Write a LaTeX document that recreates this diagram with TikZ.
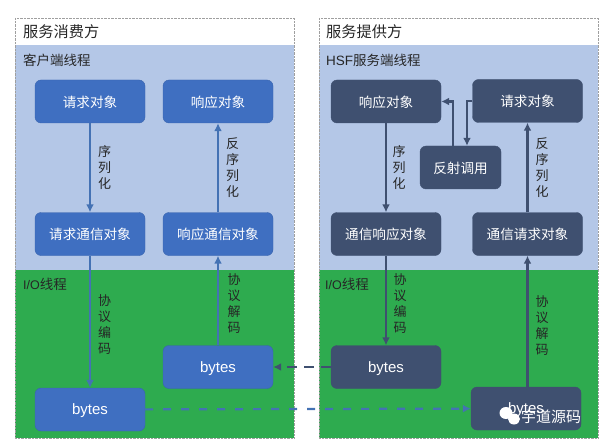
\documentclass[tikz,border=0pt]{standalone}
\usepackage{fontspec}
\setmainfont{Liberation Sans}
\newfontfamily\cjk{Noto Sans CJK SC}
\usetikzlibrary{arrows.meta}
\definecolor{paneblue}{HTML}{B4C7E7}
\definecolor{panegreen}{HTML}{2EAB4F}
\definecolor{boxblue}{HTML}{3F6FC1}
\definecolor{boxdark}{HTML}{3F5070}
\definecolor{lineblue}{HTML}{4472B4}
\tikzset{
  bluebox/.style={rectangle,rounded corners=6pt,draw=boxblue!90!black,fill=boxblue,text=white,text depth=0pt,
    minimum width=110pt,minimum height=43pt,inner sep=0pt,font=\cjk\fontsize{13.6}{16}\selectfont},
  darkbox/.style={bluebox,draw=boxdark,fill=boxdark},
  bytesfont/.style={font=\fontsize{15}{16}\selectfont},
  steplabel/.style={align=center,inner sep=0pt,text=black!85,font=\cjk\fontsize{13}{16}\selectfont},
  bluearrow/.style={line width=2.2pt,lineblue,-{Latex[length=8pt,width=8pt]}},
  darkarrow/.style={line width=2.2pt,boxdark,-{Latex[length=8pt,width=8pt]}},
  panetitle/.style={anchor=west,inner sep=0pt,text=black!85,font=\cjk\fontsize{15.2}{18}\selectfont},
  threadtitle/.style={anchor=west,inner sep=0pt,text=black!85,font=\cjk\fontsize{13.5}{16}\selectfont}
}
\begin{document}
\begin{tikzpicture}[x=1pt,y=-1pt]
    \useasboundingbox (0,0) rectangle (608,441);

    % panels
    \fill[paneblue] (15,45) rectangle (294,270);
    \fill[panegreen] (15,270) rectangle (294,438);
    \draw[gray!75,densely dotted] (15,18) rectangle (294,438);
    \fill[paneblue] (319,45) rectangle (598,270);
    \fill[panegreen] (319,270) rectangle (598,438);
    \draw[gray!75,densely dotted] (319,18) rectangle (598,438);

    \node(consumer)[panetitle] at (23,32) {服务消费方};
    \node(provider)[panetitle] at (326,32) {服务提供方};
    \node(clientthread)[threadtitle] at (23,60) {客户端线程};
    \node(serverthread)[threadtitle] at (326,60) {{\normalfont\fontsize{13.5}{16}\selectfont HSF}服务端线程};
    \node(clientio)[threadtitle] at (23,284) {{\normalfont\fontsize{12.5}{16}\selectfont I/O}线程};
    \node(serverio)[threadtitle] at (325,284) {{\normalfont\fontsize{12.5}{16}\selectfont I/O}线程};

    % consumer side
    \node(creq)[bluebox] at (90,101.5) {请求对象};
    \node(cresp)[bluebox, right of=creq, node distance=128pt] {响应对象};
    \node(creqmsg)[bluebox, below of=creq, node distance=132.5pt] {请求通信对象};
    \node(crespmsg)[bluebox, below of=cresp, node distance=132.5pt] {响应通信对象};
    \node(cin)[bluebox, below of=crespmsg, node distance=133pt, bytesfont] {bytes};
    \node(cout)[bluebox, below of=creqmsg, node distance=175.5pt, bytesfont] {bytes};

    % provider side
    \node(sresp)[darkbox] at (386,101.5) {响应对象};
    \node(sreq)[darkbox, right of=sresp, node distance=141.5pt, yshift=0.5pt] {请求对象};
    \node(scall)[darkbox, minimum width=81pt] at (460.5,167.5) {反射调用};
    \node(srespmsg)[darkbox] at (386,234) {通信响应对象};
    \node(sreqmsg)[darkbox, right of=srespmsg, node distance=141.5pt] {通信请求对象};
    \node(sout)[darkbox, below of=srespmsg, node distance=133pt, bytesfont] {bytes};
    \node(sin)[darkbox, below of=sreqmsg, node distance=174.5pt, xshift=-1.5pt, bytesfont] {bytes};

    \draw[bluearrow] (creq) -- node[steplabel,right=7pt]{序\\列\\化} (creqmsg);
    \draw[bluearrow] (crespmsg) -- node[steplabel,right=7pt]{反\\序\\列\\化} (cresp);
    \draw[bluearrow] (creqmsg) -- node[steplabel,right=7pt,pos=.52]{协\\议\\编\\码} (cout);
    \draw[bluearrow] (cin) -- node[steplabel,right=8.5pt,pos=.47]{协\\议\\解\\码} (crespmsg);

    \draw[darkarrow] (sresp) -- node[steplabel,right=5.5pt]{序\\列\\化} (srespmsg);
    \draw[darkarrow] (sreqmsg) -- node[steplabel,right=7pt]{反\\序\\列\\化} (sreq);
    \draw[darkarrow] (srespmsg) -- node[steplabel,right=6.5pt,pos=.53]{协\\议\\编\\码} (sout);
    \draw[darkarrow] (sin.north -| sreqmsg) -- node[steplabel,right=7pt,pos=.47]{协\\议\\解\\码} (sreqmsg);
    \draw[darkarrow] (sreq.west) -| ([xshift=6.5pt]scall.north);
    \draw[darkarrow] ([xshift=-7.5pt]scall.north) |- (sresp.east);

    \draw[darkarrow,dash pattern=on 10pt off 7pt] (sout) -- (cin);
    \draw[bluearrow,dash pattern=on 8pt off 10pt] (cout) -- (sin);

    % watermark
    \fill[white] (506,413) ellipse (6.5pt and 6pt);
    \fill[white] (514,419) ellipse (6pt and 5.5pt);
    \node(mark)[anchor=west,inner sep=0pt,text=white,font=\cjk\fontsize{15}{18}\selectfont] at (521,417) {宇道源码};

  \end{tikzpicture}
\end{document}
